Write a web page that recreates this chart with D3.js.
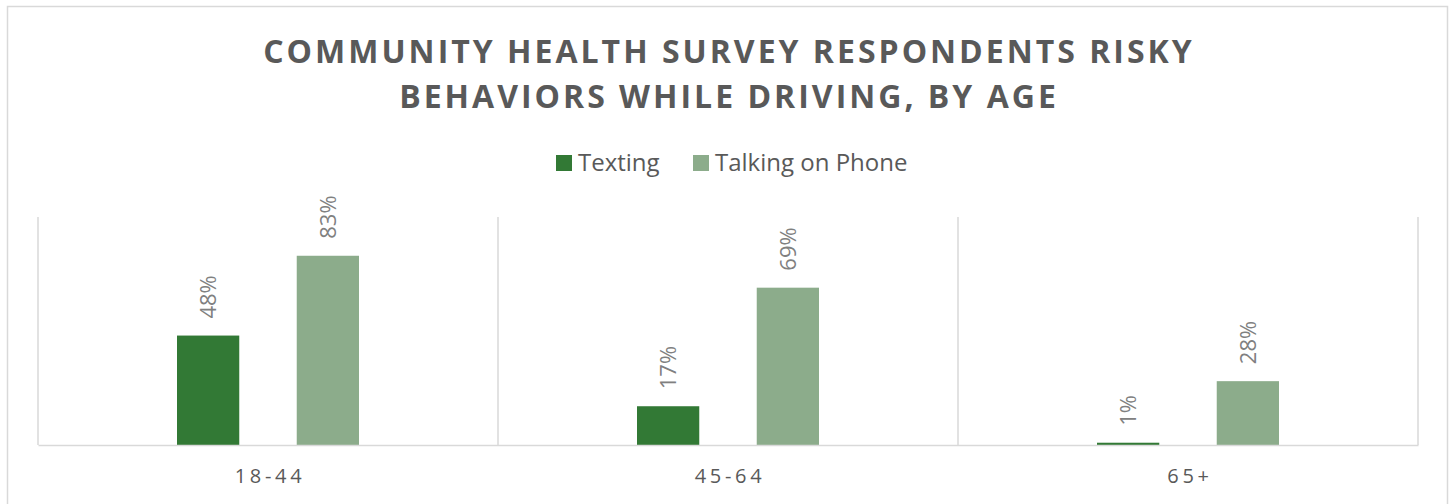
<!DOCTYPE html>
<html>
<head>
<meta charset="utf-8">
<script src="https://cdn.jsdelivr.net/npm/d3@7"></script>
<style>
  html, body { margin: 0; padding: 0; background: #fff; }
  svg { display: block; }
</style>
</head>
<body>
<svg id="chart" width="1450" height="504"></svg>
<script>
// Survey data: share of respondents reporting each behaviour, by age group
const ageGroups = ["18-44", "45-64", "65+"];
const seriesNames = ["Texting", "Talking on Phone"];
const texting = [0.48, 0.17, 0.01];
const talkingOnPhone = [0.83, 0.69, 0.28];
const seriesColors = ["#327935", "#8cac8b"];
const titleLines = ["COMMUNITY HEALTH SURVEY RESPONDENTS RISKY", "BEHAVIORS WHILE DRIVING, BY AGE"];

const rows = ageGroups.map((g, i) => ({
  group: g,
  values: [
    { series: seriesNames[0], value: texting[i] },
    { series: seriesNames[1], value: talkingOnPhone[i] }
  ]
}));

const svg = d3.select("#chart");
const font = "Open Sans, 'Noto Sans', sans-serif";

// chart frame
svg.append("rect")
  .attr("x", 7.5).attr("y", 6.5)
  .attr("width", 1440).attr("height", 520)
  .attr("fill", "#fff").attr("stroke", "#d9d9d9").attr("stroke-width", 1.5);

// title
svg.append("g").selectAll("text")
  .data(titleLines)
  .join("text")
  .attr("x", 729).attr("y", (d, i) => 63 + i * 45)
  .attr("text-anchor", "middle")
  .attr("font-family", font)
  .attr("font-weight", 700)
  .attr("font-size", 32)
  .attr("letter-spacing", 3)
  .attr("fill", "#595959")
  .text(d => d);

// plot area
const plot = { left: 38, right: 1418, top: 217, bottom: 445 };

const x0 = d3.scaleBand().domain(ageGroups).range([plot.left, plot.right]).padding(0);
const x1 = d3.scaleBand().domain(seriesNames)
  .range([139, x0.bandwidth() - 139])
  .paddingInner(0.48).paddingOuter(0);
const y = d3.scaleLinear().domain([0, 1]).range([plot.bottom, plot.top]);
const color = d3.scaleOrdinal().domain(seriesNames).range(seriesColors);

// category separators
const sepXs = ageGroups.map(g => x0(g)).concat([plot.right]);
svg.append("g").selectAll("line")
  .data(sepXs)
  .join("line")
  .attr("x1", d => d).attr("x2", d => d)
  .attr("y1", plot.top).attr("y2", plot.bottom)
  .attr("stroke", "#d9d9d9").attr("stroke-width", 1.5);

// bars
const groups = svg.append("g").selectAll("g")
  .data(rows)
  .join("g")
  .attr("transform", d => `translate(${x0(d.group)},0)`);

groups.selectAll("rect")
  .data(d => d.values)
  .join("rect")
  .attr("x", d => x1(d.series))
  .attr("width", x1.bandwidth())
  .attr("y", d => y(d.value))
  .attr("height", d => y(0) - y(d.value))
  .attr("fill", d => color(d.series));

// value labels, rotated above each bar
groups.selectAll("text")
  .data(d => d.values)
  .join("text")
  .attr("transform", d => `translate(${x1(d.series) + x1.bandwidth() / 2 + 8},${y(d.value) - 17}) rotate(-90)`)
  .attr("font-family", font)
  .attr("font-size", 22)
  .attr("fill", "#808080")
  .text(d => d3.format(".0%")(d.value));

// x axis
const xAxis = svg.append("g")
  .attr("transform", `translate(0,${plot.bottom})`)
  .call(d3.axisBottom(x0).tickSize(0).tickPadding(0));
xAxis.select(".domain").attr("stroke", "#d9d9d9").attr("stroke-width", 1.5);
xAxis.selectAll("text")
  .attr("y", 38)
  .attr("dy", null)
  .attr("dx", 2)
  .attr("font-family", font)
  .attr("font-size", 20)
  .attr("letter-spacing", 3.7)
  .attr("fill", "#595959");

// legend
const legendItems = [
  { name: seriesNames[0], x: 556 },
  { name: seriesNames[1], x: 693 }
];
const legend = svg.append("g").selectAll("g")
  .data(legendItems)
  .join("g")
  .attr("transform", d => `translate(${d.x},155)`);
legend.append("rect")
  .attr("width", 16).attr("height", 16)
  .attr("fill", d => color(d.name));
legend.append("text")
  .attr("x", 22).attr("y", 16)
  .attr("font-family", font)
  .attr("font-size", 24)
  .attr("fill", "#595959")
  .text(d => d.name);
</script>
</body>
</html>
